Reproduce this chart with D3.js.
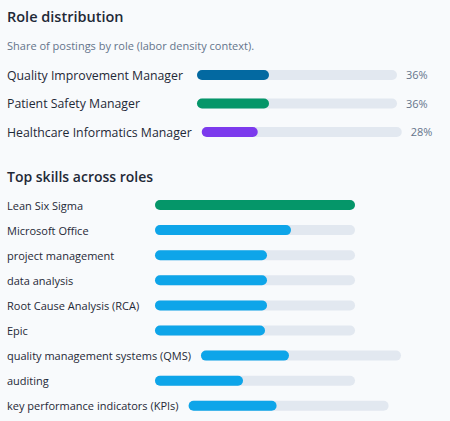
<!DOCTYPE html><html><head><meta charset="utf-8"><script src="https://cdn.jsdelivr.net/npm/d3@7"></script>
<style>body{margin:0;background:#f8fafc}text{font-family:"Open Sans",sans-serif}</style></head><body><svg id="c" width="450" height="421"></svg>
<script>
const roles=["Quality Improvement Manager","Patient Safety Manager","Healthcare Informatics Manager"];
const roleShares=[36,36,28];
const roleColors=["#0369a1","#059669","#7c3aed"];
const skills=["Lean Six Sigma","Microsoft Office","project management","data analysis","Root Cause Analysis (RCA)","Epic","quality management systems (QMS)","auditing","key performance indicators (KPIs)"];
const skillValues=[100,68,56,56,56,55,44,44,44];
const svg=d3.select("#c");
svg.append("rect").attr("width",450).attr("height",421).attr("fill","#f8fafc");
const x=d3.scaleLinear().domain([0,100]).range([0,200]);
svg.append("text").attr("x",7).attr("y",22).attr("font-size",14.5).attr("font-weight",600).attr("fill","#1f2937").text("Role distribution");
svg.append("text").attr("x",7).attr("y",50).attr("font-size",11).attr("fill","#64748b").text("Share of postings by role (labor density context).");
function row(label,v,y,color,size,pct,minX){
  const t=svg.append("text").attr("x",7).attr("y",y+4.5).attr("font-size",size).attr("fill","#1f2937").text(label);
  const x0=Math.max(minX,7+t.node().getComputedTextLength()+10);
  svg.append("rect").attr("x",x0).attr("y",y-5).attr("width",x(100)).attr("height",10).attr("rx",5).attr("fill","#e2e8f0");
  svg.append("rect").attr("x",x0).attr("y",y-5).attr("width",x(v)).attr("height",10).attr("rx",5).attr("fill",color);
  if(pct) svg.append("text").attr("x",x0+x(100)+9).attr("y",y+4).attr("font-size",11).attr("fill","#64748b").text(v+"%");
}
roles.forEach((r,i)=>row(r,roleShares[i],75+i*28.5,roleColors[i],12.3,true,197));
svg.append("text").attr("x",7).attr("y",182).attr("font-size",14).attr("font-weight",600).attr("fill","#1f2937").text("Top skills across roles");
skills.forEach((s,i)=>row(s,skillValues[i],205+i*25.1,i==0?"#059669":"#0ea5e9",11,false,155));
</script></body></html>
